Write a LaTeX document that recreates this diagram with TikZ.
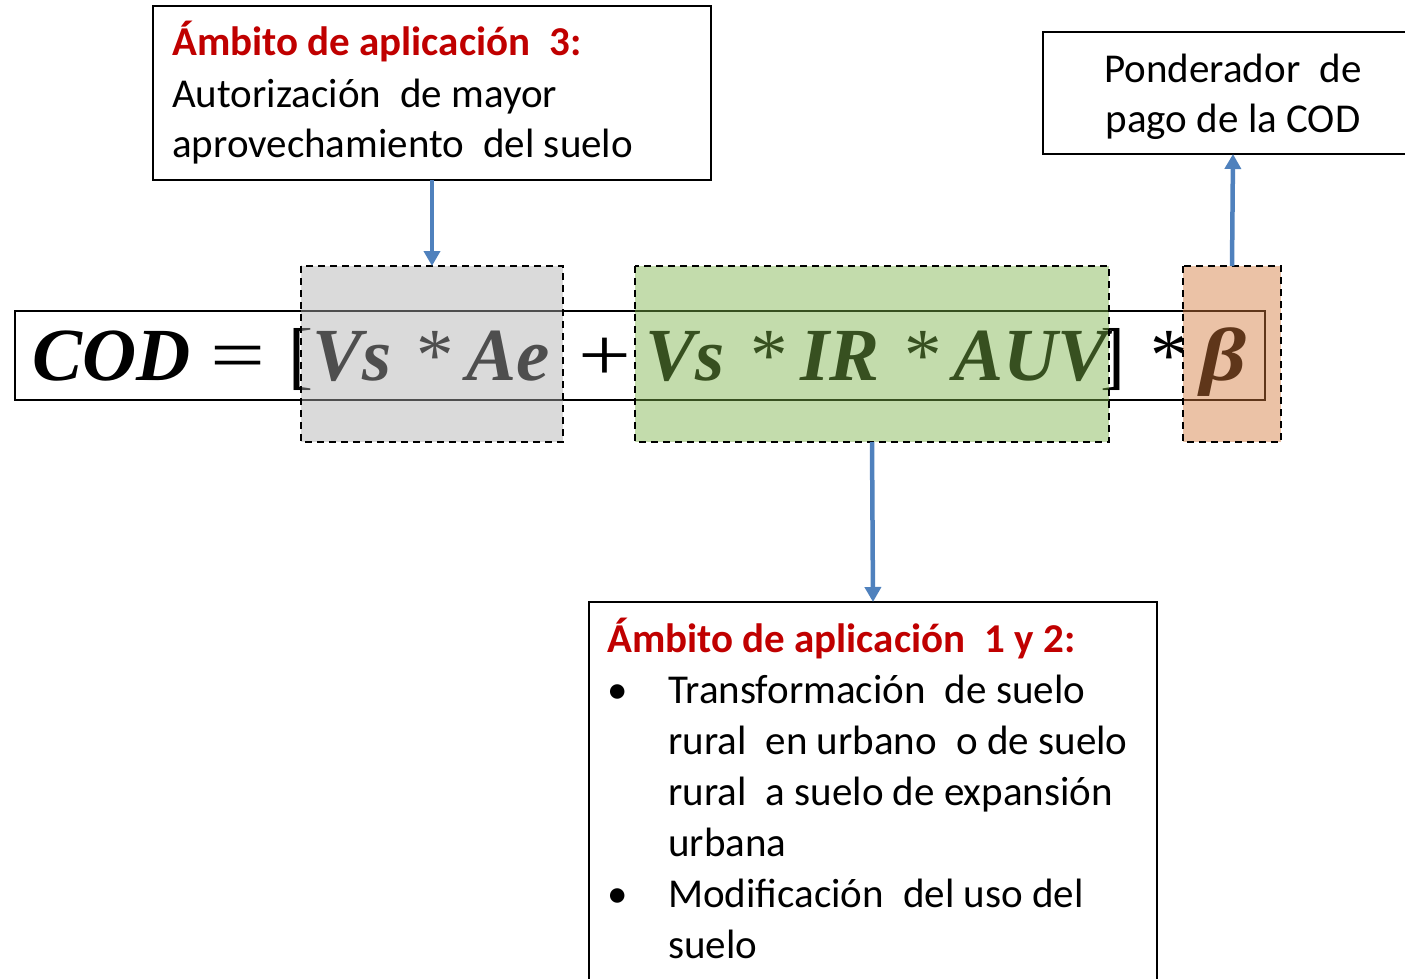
\documentclass[tikz,border=0pt]{standalone}
\usepackage{fontspec}
\setmainfont{Carlito}
\newfontfamily\formfont{Liberation Serif}
\usetikzlibrary{arrows.meta}
\definecolor{redt}{HTML}{C00000}
\definecolor{grayfill}{HTML}{AEAEAE}
\definecolor{greenfill}{HTML}{7AB247}
\definecolor{orangefill}{HTML}{D3783A}
\definecolor{arrowblue}{HTML}{4F81BD}
\newcommand{\wsp}{\ \hspace{10pt}}
\tikzset{
  box/.style={draw=black, line width=2pt, inner sep=0pt, outer sep=0pt, anchor=north west},
  hfill/.style={inner sep=0pt, outer sep=0pt, anchor=north west, fill opacity=0.45},
  dline/.style={draw=black, line width=2.2pt, dash pattern=on 7pt off 5pt},
  txt/.style={anchor=base west, inner sep=0pt, font=\fontsize{41}{50}\selectfont},
  ctxt/.style={anchor=base, inner sep=0pt, font=\fontsize{41}{50}\selectfont},
  htxt/.style={anchor=base west, inner sep=0pt, text=redt, font=\bfseries\fontsize{41}{50}\selectfont},
  ftxt/.style={anchor=base west, inner sep=0pt, font=\formfont\bfseries\itshape\fontsize{75}{80}\selectfont},
  fup/.style={anchor=base west, inner sep=0pt, font=\formfont\fontsize{75}{80}\selectfont},
  conn/.style={draw=arrowblue, line width=4.5pt, -{Triangle[length=15pt,width=16pt]}},
}
\begin{document}
\begin{tikzpicture}[x=1pt,y=-1pt]
\useasboundingbox (0,0) rectangle (1405,978);
% boxes
\node[box, minimum width=558pt, minimum height=174pt] (t3) at (153,6) {};
\node[box, minimum width=380pt, minimum height=122pt] (tp) at (1043,32) {};
\node[box, minimum width=1250pt, minimum height=89pt] (form) at (15,311) {};
\node[box, minimum width=568pt, minimum height=400pt] (b12) at (589,602) {};
% formula (black; tinted by the translucent fills above it)
\node[ftxt] (fcod) at (32,380) {COD};
\node[fup, xscale=1.3] (feq) at (210,380) {=};
\node[fup] (flb) at (288,380) {[};
\node[ftxt] (fvs1) at (312,380) {Vs};
\node[fup] (fst1) at (416,380) {*};
\node[ftxt] (fae) at (466,380) {Ae};
\node[fup, xscale=1.25] (fplus) at (578,380) {+};
\node[ftxt] (fvs2) at (645,380) {Vs};
\node[fup] (fst2) at (750,380) {*};
\node[ftxt] (fir) at (800,380) {IR};
\node[fup] (fst3) at (904,380) {*};
\node[ftxt] (fauv) at (953,380) {AUV};
\node[fup] (frb) at (1100,380) {]};
\node[fup] (fst4) at (1150,380) {*};
\node[ftxt, xscale=1.2] (fbeta) at (1200,380) {β};
% translucent highlight boxes
\node[hfill, fill=grayfill, minimum width=262pt, minimum height=176pt] (gray) at (301,266) {};
\node[hfill, fill=greenfill, minimum width=474pt, minimum height=176pt] (green) at (635,266) {};
\node[hfill, fill=orangefill, minimum width=98pt, minimum height=176pt] (orange) at (1183,266) {};
\draw[dline] (gray.north west) rectangle (gray.south east);
\draw[dline] (green.north west) rectangle (green.south east);
\draw[dline] (orange.north west) rectangle (orange.south east);
% texts top-left
\node[htxt] (h3) at (172,55) {Ámbito de aplicación\wsp3:};
\node[txt] (l31) at (172,107) {Autorización\wsp de mayor};
\node[txt] (l32) at (172,157) {aprovechamiento\wsp del suelo};
% texts top-right
\node[ctxt] (p1) at (1233,82) {Ponderador\wsp de};
\node[ctxt] (p2) at (1233,132) {pago de la COD};
% bottom box texts
\node[htxt] (h12) at (607,652) {Ámbito de aplicación\wsp1 y 2:};
\node[txt] (bu1) at (607,703) {•};
\node[txt] (l11) at (668,703) {Transformación\wsp de suelo};
\node[txt] (l12) at (668,754) {rural\wsp en urbano\wsp o de suelo};
\node[txt] (l13) at (668,805) {rural\wsp a suelo de expansión};
\node[txt] (l14) at (668,856) {urbana};
\node[txt] (bu2) at (607,907) {•};
\node[txt] (l15) at (668,907) {Modificación\wsp del uso del};
\node[txt] (l16) at (668,958) {suelo};
% connectors
\draw[conn] (t3.south) -- (gray.north);
\draw[conn] (green.south) -- (b12.north);
\draw[conn] (orange.north) -- (tp.south);
\end{tikzpicture}
\end{document}
